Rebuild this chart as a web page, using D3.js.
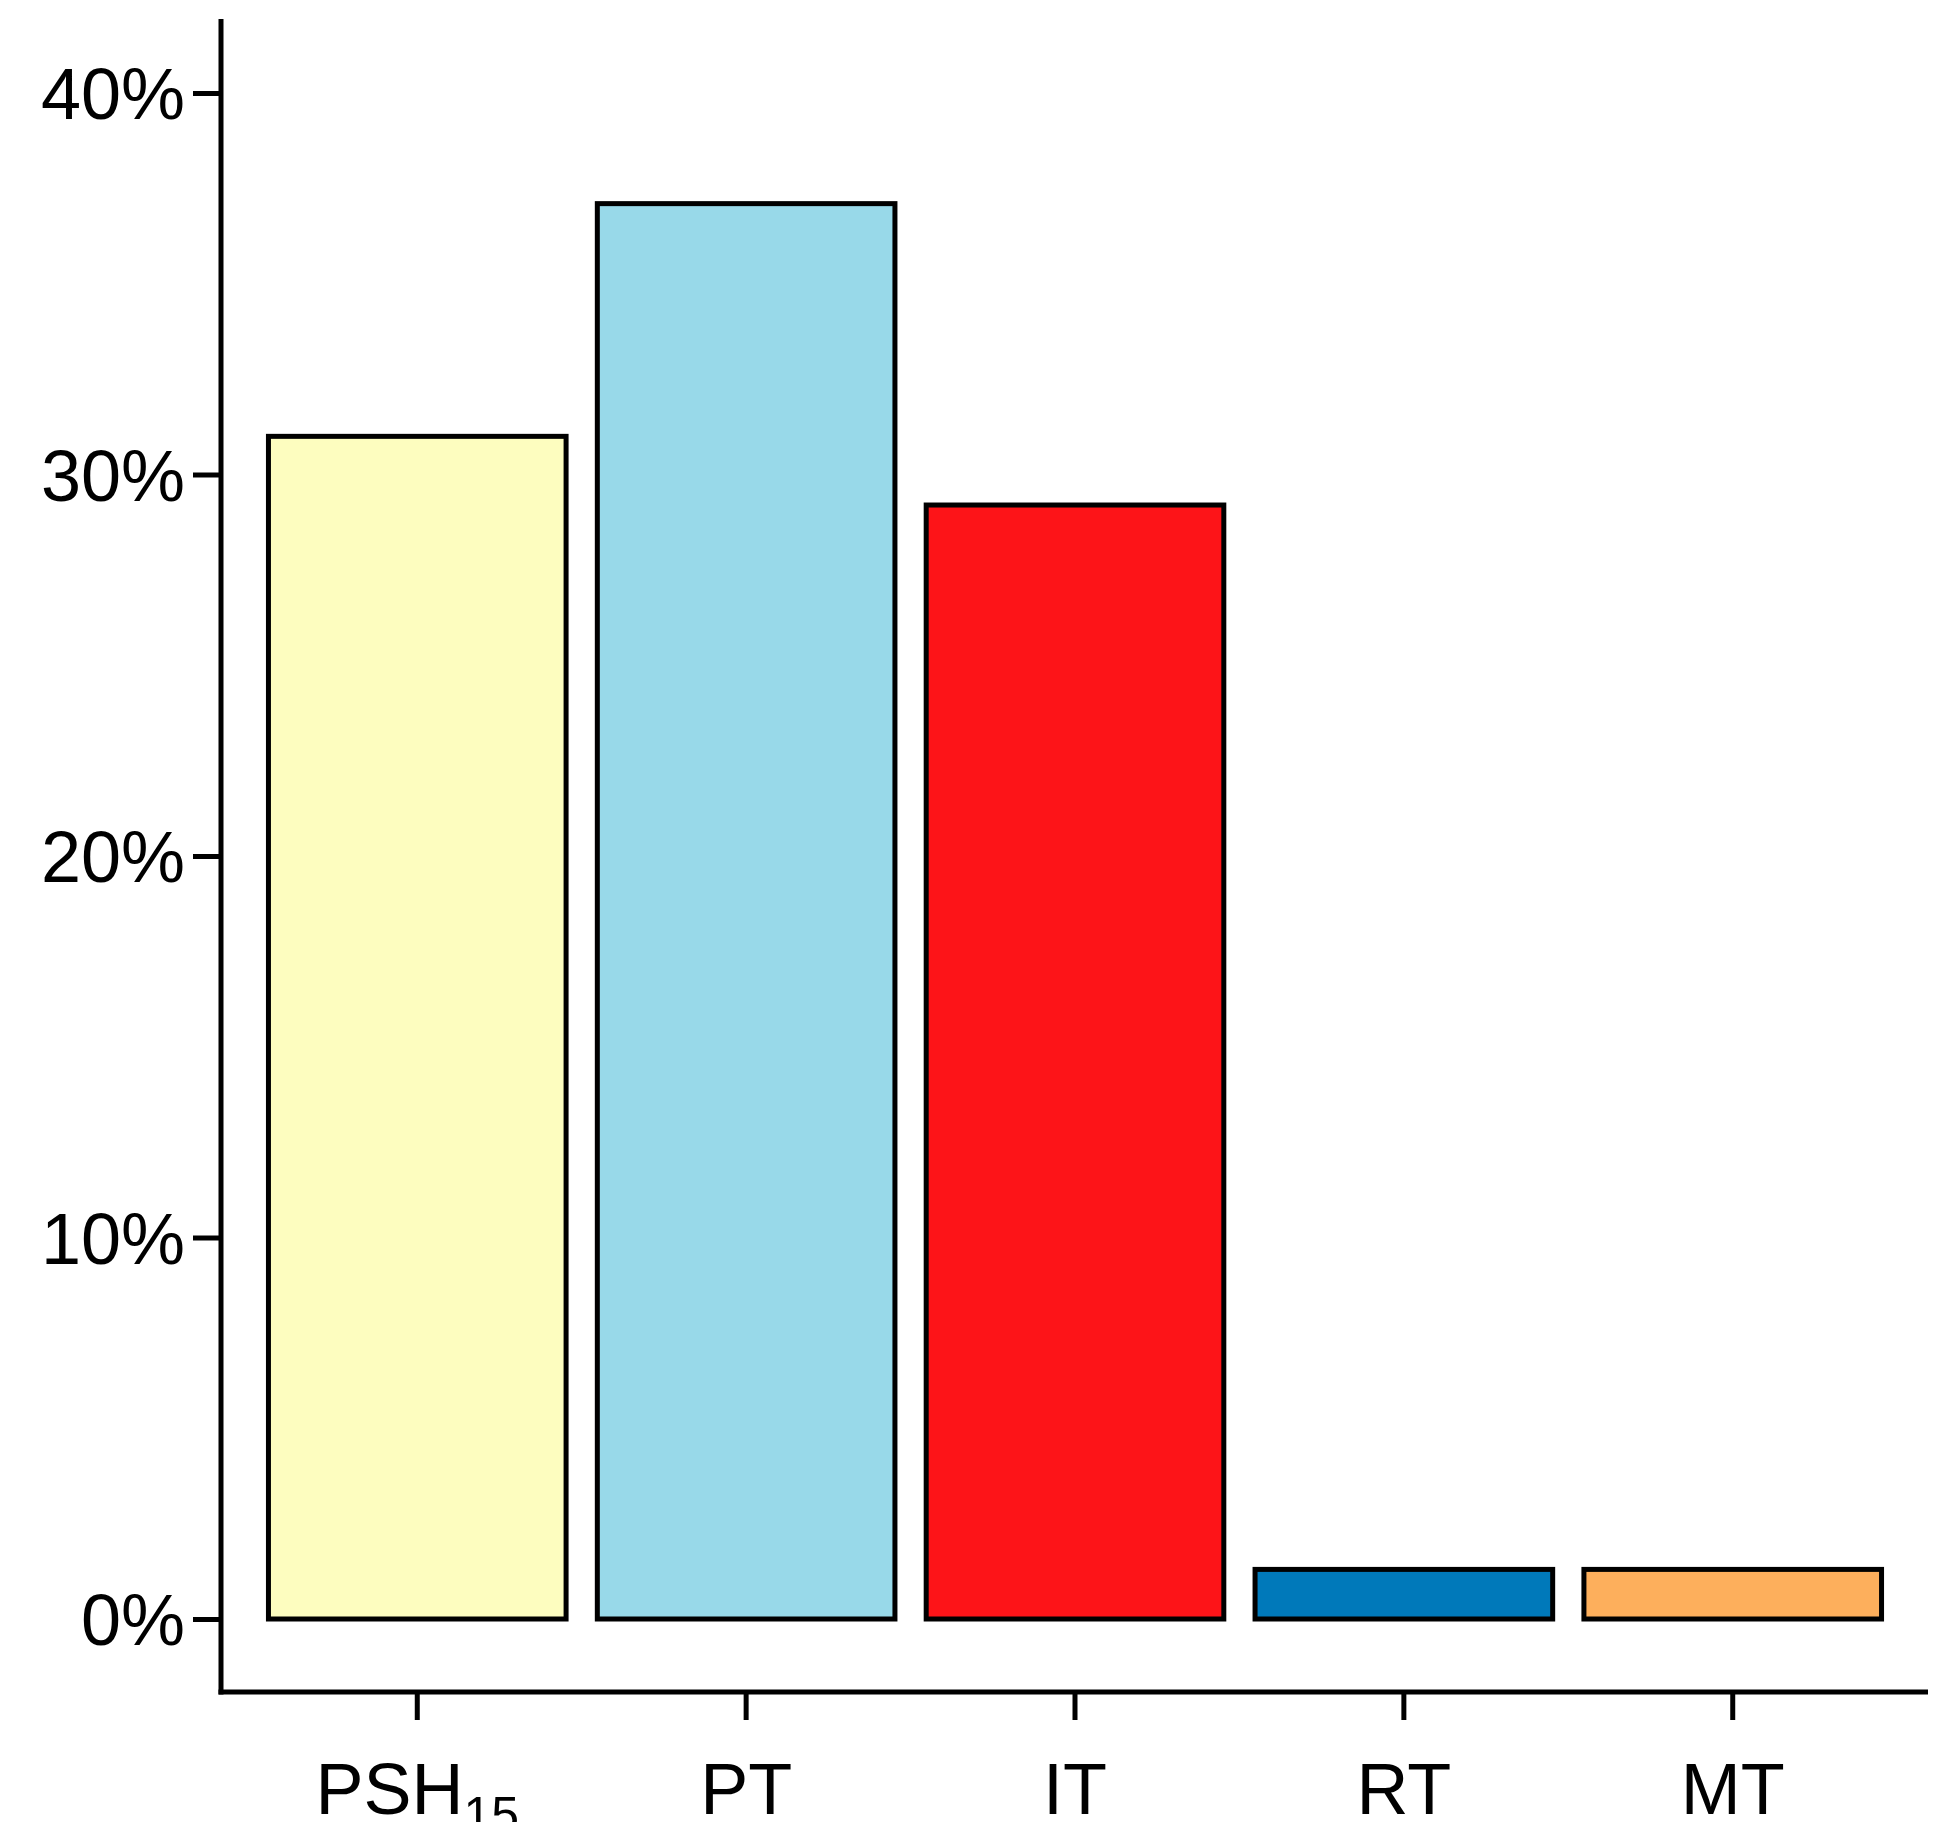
<!DOCTYPE html>
<html><head><meta charset="utf-8">
<script src="https://cdn.jsdelivr.net/npm/d3@7"></script>
<style>body{margin:0;background:#fff}</style></head>
<body><svg id="c" width="1937" height="1822"></svg>
<script>
const categories = ["PSH", "PT", "IT", "RT", "MT"];
const subscripts = ["15", "", "", "", ""];
const values = [31.0, 37.1, 29.2, 1.3, 1.3];
const colors = ["#FDFDBF", "#98D9E9", "#FD1418", "#0079BA", "#FDAF5C"];
const yTicks = [0, 10, 20, 30, 40];

(function(){
const svg = d3.select("#c");
const font = "Liberation Sans, Arial, sans-serif";
const axX = 221, axY = 1692, axTop = 19, axRight = 1928;
const x = d3.scaleBand().domain(categories).range([253, 1897]).paddingInner(0.095).paddingOuter(0.047);
const y = d3.scaleLinear().domain([0, 40]).range([1619, 93]);

svg.selectAll("rect.bar").data(values).enter().append("rect")
  .attr("x", (d,i)=>x(categories[i])).attr("width", x.bandwidth())
  .attr("y", d=>y(d)).attr("height", d=>y(0)-y(d))
  .attr("fill", (d,i)=>colors[i]).attr("stroke", "#000").attr("stroke-width", 5);

const yAxis = svg.append("g").attr("transform", `translate(${axX},0)`)
  .call(d3.axisLeft(y).tickValues(yTicks).tickFormat(d=>d+"%").tickSize(28).tickPadding(8));
yAxis.select(".domain").remove();
yAxis.append("line").attr("x1",0).attr("x2",0).attr("y1",axTop).attr("y2",axY+2.5).attr("stroke","#000").attr("stroke-width",5);
yAxis.selectAll(".tick line").attr("stroke-width",5);
yAxis.selectAll(".tick text").attr("font-family",font).attr("font-size",72).attr("fill","#000").attr("dy","0.36em");

const xAxis = svg.append("g").attr("transform", `translate(0,${axY})`)
  .call(d3.axisBottom(x).tickSize(28).tickPadding(14).tickFormat(""));
xAxis.select(".domain").remove();
xAxis.append("line").attr("x1",axX-2.5).attr("x2",axRight).attr("y1",0).attr("y2",0).attr("stroke","#000").attr("stroke-width",5);
xAxis.selectAll(".tick line").attr("stroke-width",5);
xAxis.selectAll(".tick").each(function(d,i){
  const t = d3.select(this).append("text").attr("y", 122).attr("text-anchor","middle")
    .attr("font-family",font).attr("font-size",72).attr("fill","#000");
  t.append("tspan").text(d);
  if (subscripts[i]) t.append("tspan").attr("font-size",50).attr("dy",18).text(subscripts[i]);
});
})();
</script></body></html>
